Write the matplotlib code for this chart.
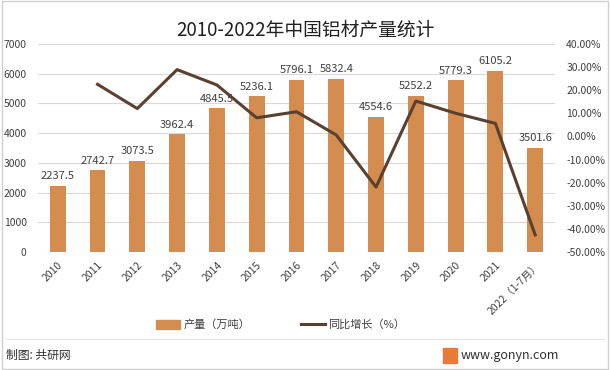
import matplotlib
matplotlib.use("Agg")
import matplotlib.pyplot as plt
from matplotlib.patches import Rectangle
from matplotlib.lines import Line2D
from matplotlib.patches import Patch

plt.rcParams['font.family'] = ['Noto Sans CJK SC', 'DejaVu Sans']

categories = ['2010', '2011', '2012', '2013', '2014', '2015', '2016', '2017',
              '2018', '2019', '2020', '2021', '2022（1-7月）']
production = [2237.5, 2742.7, 3073.5, 3962.4, 4845.5, 5236.1, 5796.1, 5832.4,
              4554.6, 5252.2, 5779.3, 6105.2, 3501.6]
growth = [None, 22.58, 12.06, 28.92, 22.29, 8.06, 10.69, 0.63,
          -21.91, 15.32, 10.04, 5.64, -42.64]
left_ticks = [0, 1000, 2000, 3000, 4000, 5000, 6000, 7000]
right_ticks = [40, 30, 20, 10, 0, -10, -20, -30, -40, -50]

bar_color = '#D58D4F'
line_color = '#5A4030'
text_color = '#404040'

fig = plt.figure(figsize=(6.1, 3.7), dpi=100)
ax = fig.add_axes([0.062, 0.319, 0.848, 0.562])
x = list(range(len(categories)))
ax.bar(x, production, width=0.4, color=bar_color, zorder=3)
for xi, v in zip(x, production):
    ax.text(xi, v + 150, f'{v:.1f}', ha='center', va='bottom', fontsize=8, color=text_color)
ax.set_ylim(0, 7000)
ax.set_xlim(-0.5, len(categories) - 0.5)
ax.set_yticks(left_ticks)
ax.set_yticklabels([str(t) for t in left_ticks], fontsize=7.5, color=text_color)
ax.grid(axis='y', color='#D9D9D9', linewidth=0.8, zorder=0)
for s in ax.spines.values():
    s.set_visible(False)
ax.tick_params(axis='both', length=0)
ax.tick_params(axis='y', pad=8)
ax.set_xticks(x)
ax.set_xticklabels(categories, rotation=45, ha='right', rotation_mode='anchor',
                   fontsize=7.5, color=text_color)
ax.tick_params(axis='x', pad=6)

ax2 = ax.twinx()
gx = [xi for xi, g in zip(x, growth) if g is not None]
gy = [g for g in growth if g is not None]
ax2.plot(gx, gy, color=line_color, linewidth=2.2, zorder=4)
ax2.set_ylim(-50, 40)
ax2.set_yticks(right_ticks)
ax2.set_yticklabels([f'{t:.2f}%' for t in right_ticks], fontsize=7.5, color=text_color)
for s in ax2.spines.values():
    s.set_visible(False)
ax2.tick_params(axis='y', length=0, pad=8)

fig.text(0.5, 0.918, '2010-2022年中国铝材产量统计', ha='center', va='center',
         fontsize=13.5, color='#202020')

handles = [Patch(color=bar_color), Line2D([0], [0], color=line_color, linewidth=2.2)]
fig.legend(handles, ['产量（万吨）', '同比增长（%）'], loc='center', ncol=2,
           bbox_to_anchor=(0.46, 0.122), frameon=False, fontsize=8,
           handlelength=2.2, handleheight=0.8, columnspacing=4.5, handletextpad=0.3,
           labelcolor=text_color)

fig.add_artist(Line2D([0.01, 0.99], [0.083, 0.083], color='#E6E6E6', linewidth=0.8))
fig.text(0.01, 0.04, '制图: 共研网', ha='left', va='center', fontsize=8.5, color='#303030')
fig.add_artist(Rectangle((0.727, 0.02), 0.022, 0.04, color='#E87A3A', transform=fig.transFigure))
fig.text(0.755, 0.04, 'www.gonyn.com', ha='left', va='center', fontsize=9, color='#303030')
fig.add_artist(Rectangle((0.003, 0.003), 0.994, 0.994, fill=False, edgecolor='#D0D0D0',
                         linewidth=1, transform=fig.transFigure))

fig.savefig('out.png', dpi=100)
